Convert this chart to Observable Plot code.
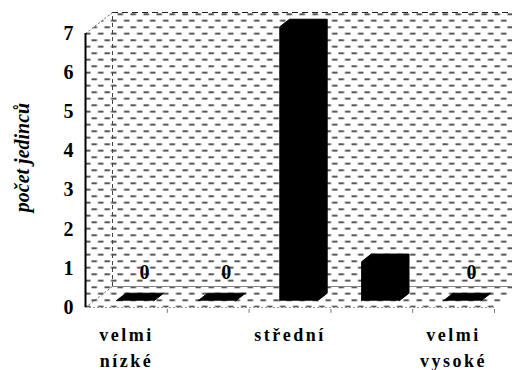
<!DOCTYPE html>
<html><head><meta charset="utf-8">
<script src="https://cdn.jsdelivr.net/npm/d3@7"></script>
<script src="https://cdn.jsdelivr.net/npm/@observablehq/plot@0.6"></script>
<style>body{margin:0;background:#fff;overflow:hidden}</style>
</head><body><div id="chart"></div>
<script>
const categories = ["velmi nízké", "nízké", "střední", "vysoké", "velmi vysoké"];
const values = [0, 0, 7, 1, 0];
const categoryLabels = ["velmi\nnízké", "", "střední", "", "velmi\nvysoké"];
const yTicks = [0, 1, 2, 3, 4, 5, 6, 7];
const yLabel = "počet jedinců";

const W = 512, H = 370, mL = 85, mR = 18, mT = 33, mB = 63;
const yMax = 7, n = categories.length;
const pxX = (W - mL - mR) / n, pxY = (H - mT - mB) / yMax;
const DX = 27 / pxX, DY = 21 / pxY;      // 3D depth expressed in data units
const f0 = 0.32, f1 = 0.68, pad = 0.27;  // bar depth span and side padding
const Xr = n + DX + 1;

const bars = values.flatMap((v, i) => {
  const a = i + pad, b = i + 1 - pad;
  return [[a + f0*DX, f0*DY], [a + f0*DX, v + f0*DY], [a + f1*DX, v + f1*DY],
          [b + f1*DX, v + f1*DY], [b + f1*DX, f1*DY], [b + f0*DX, f0*DY]]
    .map(([x, y]) => ({x, y, bar: i}));
});
const bg = [[0,0],[0,yMax],[DX,yMax+DY],[Xr,yMax+DY],[Xr,DY],[n+DX,DY],[n,0]].map(([x,y])=>({x,y}));
const zeroLabels = values.map((v, i) => ({x: i + 0.5, v})).filter(d => d.v === 0);
const catData = categories.map((c, i) => ({x: i + 0.5, label: categoryLabels[i]})).filter(d => d.label);
const font = "Liberation Serif, Times New Roman, serif";

const chart = Plot.plot({
  width: W, height: H, marginLeft: mL, marginRight: mR, marginTop: mT, marginBottom: mB,
  x: {domain: [0, n], axis: null},
  y: {domain: [0, yMax], axis: null},
  marks: [
    Plot.line(bg, {x: "x", y: "y", fill: "url(#dashpat)", stroke: "none"}),
    Plot.ruleY([DY], {x1: DX, x2: Xr, stroke: "#888", strokeWidth: 1}),
    Plot.ruleX([DX], {y1: DY, y2: yMax + DY, stroke: "#444", strokeDasharray: "4,3"}),
    Plot.ruleY([yMax + DY], {x1: DX, x2: Xr, stroke: "#222", strokeDasharray: "6,4"}),
    Plot.link([{x1: 0, y1: yMax, x2: DX, y2: yMax + DY}, {x1: 0, y1: 0, x2: DX, y2: DY}],
      {x1: "x1", y1: "y1", x2: "x2", y2: "y2", stroke: "#666", strokeDasharray: "2,2"}),
    Plot.ruleY([0], {x1: 0, x2: n, stroke: "#999", strokeDasharray: "2,2"}),
    Plot.ruleX(d3.range(1, n + 1), {y1: -0.05, y2: -0.15, stroke: "#777"}),
    Plot.ruleX([0], {y1: 0, y2: yMax, stroke: "black", strokeWidth: 2}),
    Plot.line(bars, {x: "x", y: "y", z: "bar", fill: "black", stroke: "black", strokeWidth: 1}),
    Plot.text(zeroLabels, {x: "x", y: "v", text: d => String(d.v), dx: 18, dy: -35,
      fontSize: 20, fontWeight: "bold", fontFamily: font, fill: "black"}),
    Plot.text(yTicks, {x: 0, y: d => d, text: d => String(d), textAnchor: "end", dx: -12,
      fontSize: 20, fontWeight: "bold", fontFamily: font, fill: "black"}),
    Plot.text(catData, {x: "x", y: 0, text: "label", lineAnchor: "top", dy: 15, lineHeight: 1.45,
      fontSize: 18, fontWeight: "bold", fontFamily: font, fill: "black"}),
    Plot.text([yLabel], {text: d => d, frameAnchor: "left", textAnchor: "middle", dx: -63, dy: -13, rotate: -90,
      fontSize: 20, fontWeight: "bold", fontStyle: "italic", fontFamily: font, fill: "black"})
  ]
});
document.getElementById("chart").append(chart);
const svg = chart.tagName.toLowerCase() === "svg" ? chart : chart.querySelector("svg");
const ns = "http://www.w3.org/2000/svg";
const defs = document.createElementNS(ns, "defs");
defs.innerHTML = '<pattern id="dashpat" patternUnits="userSpaceOnUse" width="13" height="13">' +
  '<rect x="0" y="0" width="5.5" height="1.4" fill="#111"/>' +
  '<rect x="6.5" y="6.5" width="5.5" height="1.4" fill="#111"/></pattern>';
svg.insertBefore(defs, svg.firstChild);
svg.querySelectorAll("text").forEach(t => {
  const s = t.textContent;
  if (/velmi|střední/.test(s)) t.style.letterSpacing = "2.5px";
});
</script></body></html>
